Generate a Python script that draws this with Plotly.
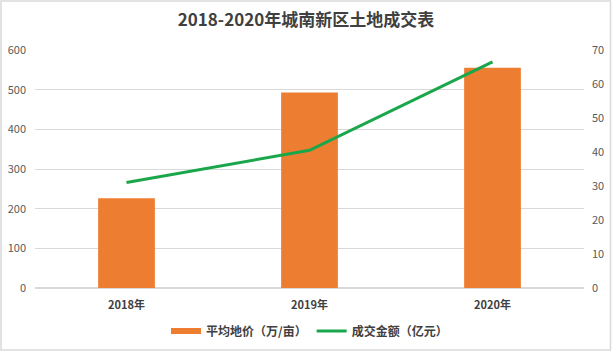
import plotly.graph_objects as go

years = ["2018年", "2019年", "2020年"]
avg_price = [226, 493, 555]
deal_amount = [31, 40.5, 66.5]
left_ticks = [0, 100, 200, 300, 400, 500, 600]
right_ticks = [0, 10, 20, 30, 40, 50, 60, 70]

W, H = 612, 352
L, R, T, B = 35, 28, 50, 64
pw, ph = W - L - R, H - T - B

font = "Noto Sans CJK SC, Noto Sans, sans-serif"
bar_color = "#ED7D31"
line_color = "#1AA64A"

fig = go.Figure()
fig.add_trace(go.Bar(
    x=years, y=avg_price, name="平均地价（万/亩）", showlegend=False,
    legendgroup="bar",
    marker=dict(color=bar_color, line=dict(width=0)), yaxis="y",
))
# legend proxy for the bar series (wide flat swatch)
fig.add_trace(go.Scatter(
    x=[None], y=[None], name="平均地价（万/亩）", mode="lines", legendgroup="bar",
    line=dict(color=bar_color, width=6), yaxis="y",
))
fig.add_trace(go.Scatter(
    x=years, y=deal_amount, name="成交金额（亿元）", mode="lines",
    line=dict(color=line_color, width=3), yaxis="y2",
))

fig.update_layout(
    width=W, height=H,
    margin=dict(l=L, r=R, t=T, b=B, autoexpand=False),
    paper_bgcolor="white", plot_bgcolor="white",
    bargap=0.69,
    font=dict(family=font, size=11, color="#595959"),
    title=dict(text="<b>2018-2020年城南新区土地成交表</b>", x=0.5, xanchor="center",
               y=1 - 20 / H, yanchor="middle",
               font=dict(size=17, color="#404040", family=font)),
    xaxis=dict(showgrid=False, showline=False, ticks="", ticklabelstandoff=9,
               tickfont=dict(size=11, color="#404040", weight="bold")),
    yaxis=dict(range=[0, 600], tickvals=left_ticks, showgrid=True, gridcolor="#D9D9D9",
               gridwidth=1, zeroline=True, zerolinecolor="#D9D9D9", showline=False,
               ticks="", ticklen=0, ticklabelstandoff=8,
               tickfont=dict(size=11, color="#595959")),
    yaxis2=dict(range=[0, 70], tickvals=right_ticks, overlaying="y", side="right",
                showgrid=False, zeroline=False, showline=False, ticks="",
                ticklabelstandoff=7,
                tickfont=dict(size=11, color="#595959")),
    legend=dict(orientation="h", x=0.5, xanchor="center",
                yref="container", y=1 - 331 / H, yanchor="middle",
                font=dict(size=12, color="#404040", family=font, weight="bold"),
                itemwidth=30, traceorder="normal"),
    showlegend=True,
)

# outer chart border
fig.add_shape(type="rect", xref="paper", yref="paper",
              x0=-(L - 1) / pw, x1=1 + (R - 1.5) / pw,
              y0=-(B - 2) / ph, y1=1 + (T - 1) / ph,
              line=dict(color="#D9D9D9", width=1.5), fillcolor="rgba(0,0,0,0)", layer="below")

fig.write_html("out.html")
